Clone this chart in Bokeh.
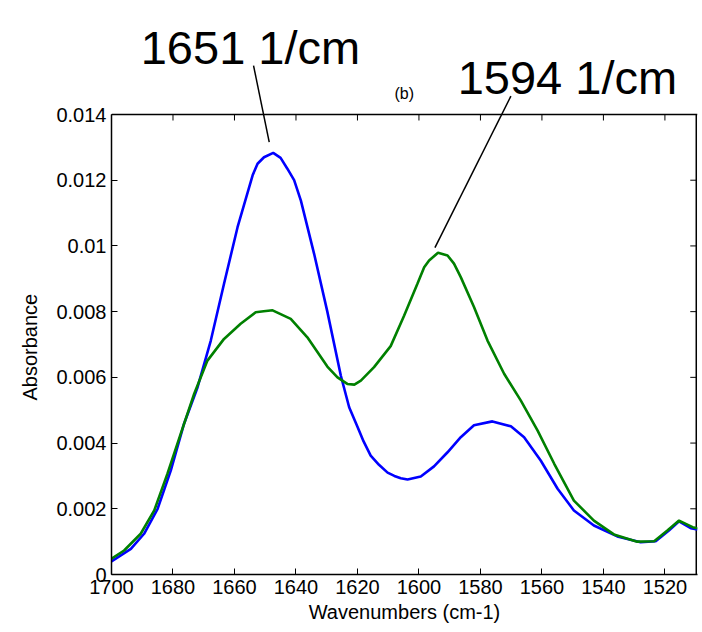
from bokeh.plotting import figure
from bokeh.models import Range1d, FixedTicker, Label, Arrow, Span, Title
from bokeh.embed import file_html
from bokeh.resources import INLINE

# ---- data ----
blue_x = [1700.0, 1693.7, 1689.4, 1685.0, 1680.7, 1676.4, 1672.0, 1667.7, 1663.4, 1659.0,
          1654.1, 1652.5, 1650.4, 1647.4, 1645.0, 1642.8, 1640.6, 1638.4, 1634.1, 1629.8,
          1625.4, 1622.7, 1620.0, 1618.0, 1615.7, 1613.0, 1610.2, 1608.0, 1605.9, 1603.7,
          1599.4, 1595.1, 1590.7, 1586.4, 1582.1, 1576.1, 1570.1, 1565.8, 1560.4, 1554.9,
          1549.6, 1543.1, 1535.5, 1527.9, 1523.0, 1518.7, 1515.4, 1511.6, 1509.4]
blue_y = [0.00040, 0.00078, 0.00124, 0.00200, 0.00317, 0.00459, 0.00570, 0.00712, 0.00885, 0.01057,
          0.01215, 0.01250, 0.01270, 0.01283, 0.01268, 0.01235, 0.01200, 0.01138, 0.00976, 0.00800,
          0.00605, 0.00509, 0.00450, 0.00405, 0.00362, 0.00334, 0.00310, 0.00300, 0.00293, 0.00289,
          0.00298, 0.00329, 0.00372, 0.00418, 0.00454, 0.00466, 0.00451, 0.00418, 0.00347, 0.00261,
          0.00195, 0.00149, 0.00116, 0.00098, 0.00101, 0.00134, 0.00162, 0.00141, 0.00137]

green_x = [1700.0, 1695.9, 1690.5, 1686.1, 1681.8, 1677.5, 1673.1, 1668.8, 1663.4, 1658.0,
           1653.1, 1650.5, 1647.6, 1641.7, 1636.3, 1629.8, 1626.5, 1623.3, 1621.0, 1618.9,
           1614.6, 1609.2, 1604.8, 1600.5, 1598.3, 1596.7, 1593.8, 1590.7, 1588.6, 1586.4,
           1582.1, 1577.7, 1572.3, 1566.9, 1561.4, 1556.0, 1549.6, 1543.1, 1536.6, 1529.0,
           1523.5, 1519.2, 1515.4, 1511.0, 1509.4]
green_y = [0.00048, 0.00073, 0.00124, 0.00195, 0.00307, 0.00428, 0.00550, 0.00651, 0.00717, 0.00763,
           0.00798, 0.00801, 0.00804, 0.00778, 0.00722, 0.00633, 0.00600, 0.00580, 0.00578, 0.00590,
           0.00631, 0.00695, 0.00788, 0.00885, 0.00935, 0.00956, 0.00979, 0.00971, 0.00946, 0.00905,
           0.00814, 0.00712, 0.00611, 0.00530, 0.00438, 0.00337, 0.00225, 0.00164, 0.00122, 0.00100,
           0.00101, 0.00134, 0.00164, 0.00144, 0.00141]

x_ticks = [1700, 1680, 1660, 1640, 1620, 1600, 1580, 1560, 1540, 1520]
y_ticks = [0, 0.002, 0.004, 0.006, 0.008, 0.01, 0.012, 0.014]
y_tick_labels = ["0", "0.002", "0.004", "0.006", "0.008", "0.01", "0.012", "0.014"]

title_text = "(b)"
x_label = "Wavenumbers (cm-1)"
y_label = "Absorbance"

peak1_text = "1651 1/cm"
peak2_text = "1594 1/cm"

FONT = "Liberation Sans"

# ---- layout constants ----
W, H = 702, 632
BORDER_L, BORDER_R, BORDER_T, BORDER_B = 111, 5, 2, 58
BOX_TOP_PX = 114                       # top edge of the axes box in page pixels
FRAME_H = H - BORDER_T - BORDER_B      # drawing frame (extends above the box for the callouts)
BOX_H = H - BORDER_B - BOX_TOP_PX
Y_MIN, Y_BOX = 0.0, 0.014
Y_TOP = Y_BOX * FRAME_H / BOX_H
X_LEFT, X_RIGHT = 1700, 1509.4
X_BOX_RIGHT = 1509.8
PX_X = (W - BORDER_L - BORDER_R) / (X_LEFT - X_RIGHT)   # pixels per wavenumber
PX_Y = BOX_H / (Y_BOX - Y_MIN)                           # pixels per absorbance unit
TICK = 6
YLABEL_OFFSET = 174   # distance from frame bottom to start of the rotated y label

p = figure(width=W, height=H, output_backend="svg", toolbar_location=None,
           x_range=Range1d(X_LEFT, X_RIGHT), y_range=Range1d(Y_MIN, Y_TOP),
           min_border_left=BORDER_L, min_border_right=BORDER_R,
           min_border_top=BORDER_T, min_border_bottom=BORDER_B)

p.xgrid.visible = False
p.ygrid.visible = False
p.outline_line_color = None
p.background_fill_color = "white"
p.border_fill_color = "white"

def style_axis(ax, ticks):
    ax.ticker = FixedTicker(ticks=ticks)
    ax.major_tick_in = TICK
    ax.major_tick_out = 0
    ax.minor_tick_line_color = None
    ax.axis_line_color = "black"
    ax.axis_line_width = 1.5
    ax.major_tick_line_color = "black"
    ax.major_tick_line_width = 1
    ax.major_label_text_font = FONT
    ax.major_label_text_font_size = "20px"
    ax.major_label_text_color = "black"
    ax.major_label_standoff = 5
    ax.axis_label_text_font = FONT
    ax.axis_label_text_font_size = "20px"
    ax.axis_label_text_font_style = "normal"
    ax.axis_label_text_color = "black"

xax = p.xaxis[0]
yax = p.yaxis[0]
style_axis(xax, x_ticks)
style_axis(yax, y_ticks)
xax.axis_label = x_label
xax.axis_label_standoff = 4
yax.bounds = (Y_MIN, Y_BOX)
yax.major_label_overrides = {t: s for t, s in zip(y_ticks, y_tick_labels)}
yax.major_label_orientation = "horizontal"

# y-axis label, centred on the axes box (not on the taller drawing frame)
p.add_layout(Title(text=y_label, align="left", offset=YLABEL_OFFSET, standoff=26,
                   text_font=FONT, text_font_size="20px", text_font_style="normal",
                   text_color="black"), "left")

# top and right edges of the axes box, with inward ticks
p.add_layout(Span(location=Y_BOX, dimension="width", line_color="black", line_width=1.5))
p.segment(x0=[X_BOX_RIGHT], y0=[Y_MIN], x1=[X_BOX_RIGHT], y1=[Y_BOX],
          line_color="black", line_width=1.5)
p.segment(x0=x_ticks, y0=[Y_BOX] * len(x_ticks), x1=x_ticks,
          y1=[Y_BOX - TICK / PX_Y] * len(x_ticks), line_color="black", line_width=1)
p.segment(x0=[X_BOX_RIGHT] * len(y_ticks), y0=y_ticks,
          x1=[X_BOX_RIGHT + TICK / PX_X] * len(y_ticks), y1=y_ticks,
          line_color="black", line_width=1)

p.line(blue_x, blue_y, line_color="#0000ff", line_width=2.6)
p.line(green_x, green_y, line_color="#008000", line_width=2.6)

# title and call-outs (data units)
p.add_layout(Label(x=1604.8, y=0.01464, text=title_text, text_font=FONT, text_font_size="16px",
                   text_align="center", text_baseline="middle", text_color="black"))
p.add_layout(Label(x=1690.5, y=0.01604, text=peak1_text, text_font=FONT,
                   text_font_size="47px", text_baseline="alphabetic", text_color="black"))
p.add_layout(Label(x=1587.4, y=0.01513, text=peak2_text, text_font=FONT,
                   text_font_size="47px", text_baseline="alphabetic", text_color="black"))
p.add_layout(Arrow(end=None, x_start=1653.8, y_start=0.01549, x_end=1648.7, y_end=0.01316,
                   line_color="black", line_width=1.5))
p.add_layout(Arrow(end=None, x_start=1570.1, y_start=0.01456, x_end=1594.8, y_end=0.00995,
                   line_color="black", line_width=1.5))

open("out.html", "w").write(file_html(p, INLINE))
